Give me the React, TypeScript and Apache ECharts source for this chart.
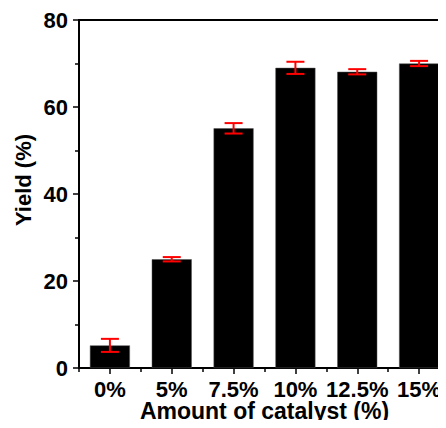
import React, { useEffect, useRef } from "react";
import * as echarts from "echarts";

const categories = ["0%", "5%", "7.5%", "10%", "12.5%", "15%"];
const yieldValues = [5.2, 25.0, 55.1, 69.0, 68.1, 70.0];
const yieldErrors = [1.5, 0.5, 1.2, 1.4, 0.6, 0.6];
const yTicks = { min: 0, max: 80, interval: 20 };

const FONT = "'Liberation Sans', Arial, sans-serif";

export default function App() {
  const ref = useRef<HTMLDivElement>(null);
  useEffect(() => {
    if (!ref.current) return;
    const chart = echarts.init(ref.current, null, { renderer: "svg" });
    const errData = yieldValues.map((v, i) => [i, v - yieldErrors[i], v + yieldErrors[i]]);
    chart.setOption({
      animation: false,
      backgroundColor: "#ffffff",
      grid: {
        left: 79,
        top: 20,
        width: 371,
        bottom: 60,
        show: true,
        borderColor: "#000",
        borderWidth: 2,
        backgroundColor: "transparent",
        containLabel: false,
        outerBoundsMode: "none",
      },
      xAxis: [
        {
          type: "category",
          data: categories,
          position: "bottom",
          name: "Amount of catalyst (%)",
          nameLocation: "middle",
          nameGap: 32,
          nameMoveOverlap: false,
          nameTextStyle: { fontFamily: FONT, fontWeight: "bold", fontSize: 23, lineHeight: 21, color: "#000", verticalAlign: "top" },
          axisLine: { show: true, lineStyle: { color: "#000", width: 2 } },
          axisTick: { show: true, alignWithLabel: false, length: 4, lineStyle: { color: "#000", width: 1.5 } },
          axisLabel: { interval: 0, hideOverlap: false, margin: 11.5, lineHeight: 20, fontFamily: FONT, fontWeight: "bold", fontSize: 22, color: "#000" },
          splitLine: { show: false },
        },
        {
          type: "category",
          data: categories,
          position: "bottom",
          axisLine: { show: false },
          axisTick: { show: true, interval: 0, alignWithLabel: true, length: 6, lineStyle: { color: "#000", width: 1.5 } },
          axisLabel: { show: false, interval: 0 },
          splitLine: { show: false },
        },
      ],
      yAxis: {
        type: "value",
        min: yTicks.min,
        max: yTicks.max,
        interval: yTicks.interval,
        axisLine: { show: true, lineStyle: { color: "#000", width: 2 } },
        axisTick: { show: true, length: 6, lineStyle: { color: "#000", width: 1.5 } },
        minorTick: { show: true, splitNumber: 2, length: 4, lineStyle: { color: "#000", width: 1.5 } },
        axisLabel: { margin: 11, fontFamily: FONT, fontWeight: "bold", fontSize: 22, color: "#000" },
        splitLine: { show: false },
      },
      graphic: [
        {
          type: "text",
          x: 23,
          y: 180,
          rotation: Math.PI / 2,
          style: {
            text: "Yield (%)",
            fontFamily: FONT,
            fontWeight: "bold",
            fontSize: 22,
            fill: "#000",
            align: "center",
            verticalAlign: "middle",
          },
        },
      ],
      series: [
        {
          type: "bar",
          xAxisIndex: 0,
          data: yieldValues,
          barWidth: 40,
          itemStyle: { color: "#000", borderColor: "#555", borderWidth: 0.5 },
        },
        {
          type: "custom",
          xAxisIndex: 0,
          data: errData,
          z: 10,
          clip: false,
          renderItem: (params: any, api: any) => {
            const x = api.value(0);
            const lo = api.coord([x, api.value(1)]);
            const hi = api.coord([x, api.value(2)]);
            const hw = 9;
            const style = { stroke: "#ff0000", lineWidth: 2, fill: "none" };
            return {
              type: "group",
              children: [
                { type: "line", shape: { x1: lo[0], y1: lo[1], x2: hi[0], y2: hi[1] }, style },
                { type: "line", shape: { x1: hi[0] - hw, y1: hi[1], x2: hi[0] + hw, y2: hi[1] }, style },
                { type: "line", shape: { x1: lo[0] - hw, y1: lo[1], x2: lo[0] + hw, y2: lo[1] }, style },
              ],
            };
          },
        },
      ],
    });
    return () => chart.dispose();
  }, []);
  return <div ref={ref} style={{ width: 446, height: 428, margin: -8 }} />;
}
